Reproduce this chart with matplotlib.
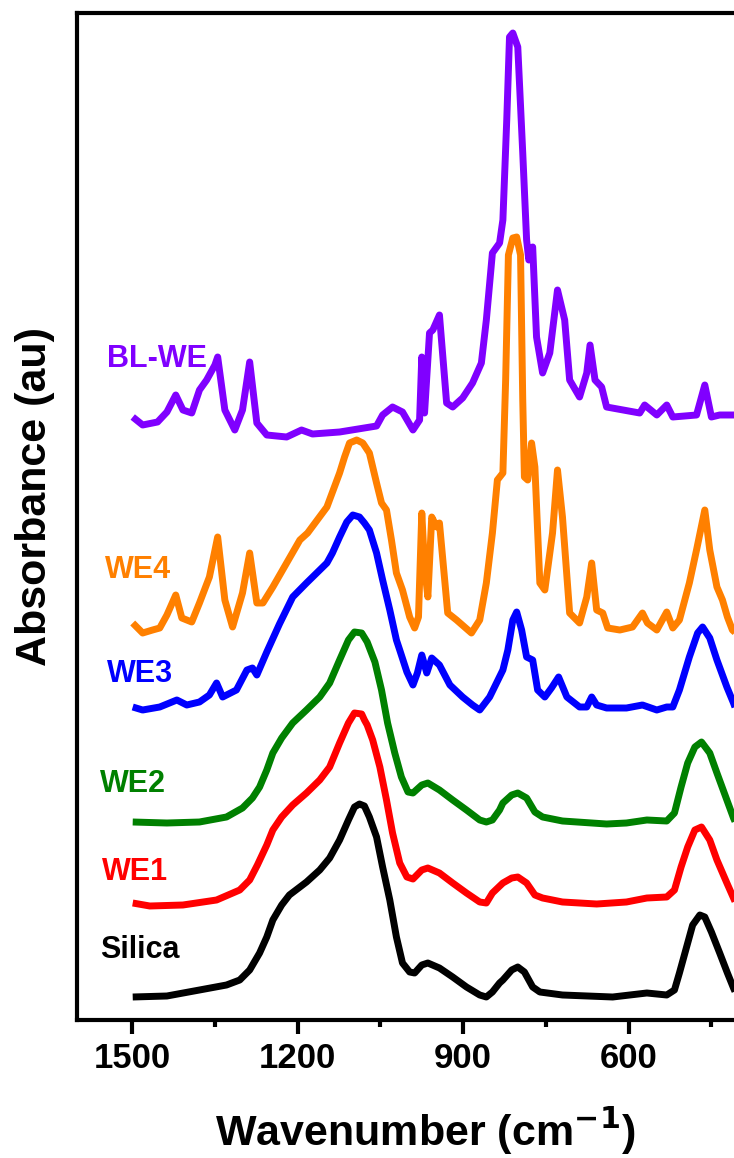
import matplotlib
matplotlib.use("Agg")
import matplotlib.pyplot as plt

plt.rcParams['font.family'] = ['Liberation Sans', 'DejaVu Sans']
plt.rcParams['font.weight'] = 'bold'

# wavenumber (cm-1) / absorbance (au, stacked)
bl_we_x = [1499, 1481, 1454, 1437, 1421, 1408, 1392, 1378, 1365, 1350,
           1345, 1332, 1314, 1300, 1287, 1274, 1256, 1220, 1193, 1173,
           1124, 1057, 1046, 1028, 1010, 991, 979, 975, 970, 961,
           955, 943, 930, 919, 901, 883, 867, 858, 847, 834,
           828, 821, 816, 810, 801, 792, 785, 781, 774, 767,
           756, 743, 729, 716, 707, 689, 676, 670, 661, 649,
           640, 580, 571, 549, 531, 520, 477, 462, 450, 435,
           412, 402]
bl_we_y = [6.03, 5.95, 5.98, 6.08, 6.25, 6.10, 6.07, 6.30, 6.40, 6.55,
           6.63, 6.10, 5.90, 6.10, 6.58, 5.97, 5.85, 5.83, 5.90, 5.86,
           5.88, 5.94, 6.05, 6.13, 6.08, 5.90, 6.00, 6.63, 6.07, 6.87,
           6.90, 7.05, 6.17, 6.13, 6.22, 6.37, 6.57, 7.00, 7.67, 7.77,
           8.00, 9.00, 9.83, 9.87, 9.73, 8.67, 7.80, 7.60, 7.73, 6.83,
           6.47, 6.67, 7.30, 7.00, 6.40, 6.23, 6.47, 6.75, 6.40, 6.33,
           6.13, 6.07, 6.15, 6.05, 6.15, 6.03, 6.05, 6.35, 6.03, 6.05,
           6.05, 6.05]

we4_x = [1499, 1481, 1463, 1450, 1437, 1421, 1410, 1392, 1378, 1360,
         1345, 1332, 1318, 1300, 1287, 1274, 1263, 1245, 1220, 1196,
         1182, 1147, 1124, 1115, 1106, 1093, 1082, 1070, 1057, 1048,
         1039, 1030, 1021, 1010, 997, 988, 981, 975, 970, 964,
         957, 948, 943, 928, 912, 885, 870, 858, 847, 838,
         828, 823, 818, 810, 803, 796, 792, 789, 783, 776,
         770, 761, 752, 738, 729, 720, 707, 689, 676, 667,
         658, 647, 638, 616, 593, 575, 566, 549, 531, 520,
         508, 490, 477, 462, 453, 440, 430, 421, 412, 402]
we4_y = [3.97, 3.87, 3.90, 3.92, 4.05, 4.25, 4.02, 3.98, 4.17, 4.43,
         4.83, 4.20, 3.93, 4.27, 4.67, 4.17, 4.17, 4.33, 4.57, 4.80,
         4.87, 5.13, 5.47, 5.63, 5.77, 5.80, 5.77, 5.67, 5.37, 5.17,
         5.10, 4.80, 4.47, 4.30, 4.03, 3.92, 4.03, 5.07, 4.53, 4.23,
         5.03, 4.93, 4.97, 4.07, 4.00, 3.87, 4.00, 4.37, 4.87, 5.40,
         5.47, 6.40, 7.65, 7.82, 7.83, 7.65, 6.20, 5.43, 5.40, 5.77,
         5.53, 4.37, 4.30, 4.87, 5.50, 5.03, 4.07, 3.97, 4.23, 4.57,
         4.10, 4.07, 3.92, 3.90, 3.93, 4.07, 3.97, 3.90, 4.08, 3.92,
         4.00, 4.37, 4.70, 5.10, 4.70, 4.33, 4.20, 4.03, 3.90, 3.85]

we3_x = [1499, 1481, 1450, 1419, 1401, 1378, 1360, 1347, 1336, 1311,
         1292, 1282, 1274, 1256, 1233, 1209, 1184, 1147, 1137, 1124,
         1111, 1100, 1088, 1079, 1070, 1057, 1046, 1033, 1021, 1015,
         1002, 991, 983, 975, 966, 957, 943, 924, 901, 883,
         870, 852, 828, 819, 810, 803, 794, 785, 774, 765,
         752, 740, 727, 712, 689, 676, 667, 658, 640, 604,
         575, 549, 531, 520, 508, 490, 475, 466, 453, 440,
         422, 410, 402]
we3_y = [3.13, 3.10, 3.13, 3.20, 3.15, 3.18, 3.25, 3.37, 3.23, 3.30,
         3.50, 3.52, 3.45, 3.68, 3.96, 4.23, 4.37, 4.57, 4.67, 4.83,
         4.98, 5.05, 5.03, 4.97, 4.90, 4.67, 4.40, 4.10, 3.80, 3.70,
         3.48, 3.35, 3.47, 3.65, 3.47, 3.62, 3.55, 3.35, 3.23, 3.15,
         3.10, 3.23, 3.50, 3.70, 4.00, 4.08, 3.90, 3.63, 3.60, 3.30,
         3.23, 3.32, 3.43, 3.23, 3.13, 3.13, 3.23, 3.15, 3.12, 3.12,
         3.15, 3.10, 3.13, 3.13, 3.30, 3.63, 3.87, 3.93, 3.82, 3.60,
         3.33, 3.17, 3.05]

we2_x = [1499, 1437, 1378, 1329, 1300, 1282, 1269, 1256, 1245, 1229,
         1209, 1184, 1160, 1142, 1124, 1108, 1097, 1084, 1074, 1060,
         1048, 1037, 1024, 1012, 1000, 991, 975, 964, 943, 919,
         894, 870, 858, 847, 834, 828, 812, 801, 785, 770,
         756, 720, 640, 604, 567, 531, 517, 505, 493, 480,
         468, 453, 440, 422, 410, 402]
we2_y = [1.98, 1.97, 1.98, 2.03, 2.12, 2.22, 2.33, 2.50, 2.67, 2.82,
         2.97, 3.10, 3.23, 3.37, 3.60, 3.80, 3.88, 3.87, 3.78, 3.58,
         3.30, 2.97, 2.67, 2.43, 2.28, 2.27, 2.35, 2.37, 2.30, 2.20,
         2.10, 2.00, 1.98, 2.00, 2.10, 2.17, 2.25, 2.27, 2.22, 2.08,
         2.03, 1.99, 1.96, 1.97, 2.00, 1.99, 2.07, 2.33, 2.57, 2.73,
         2.78, 2.67, 2.47, 2.20, 2.02, 1.92]

we1_x = [1499, 1468, 1408, 1347, 1305, 1287, 1273, 1256, 1245, 1229,
         1209, 1184, 1160, 1142, 1124, 1108, 1097, 1084, 1079, 1074,
         1064, 1051, 1039, 1028, 1015, 1002, 991, 975, 964, 943,
         919, 894, 870, 858, 847, 828, 812, 801, 785, 770,
         756, 720, 658, 604, 567, 531, 517, 505, 493, 480,
         468, 453, 440, 422, 410, 402]
we1_y = [1.17, 1.14, 1.15, 1.20, 1.30, 1.40, 1.55, 1.75, 1.90, 2.03,
         2.15, 2.27, 2.40, 2.53, 2.77, 2.97, 3.07, 3.06, 3.00, 2.95,
         2.80, 2.53, 2.20, 1.87, 1.57, 1.43, 1.41, 1.50, 1.52, 1.47,
         1.37, 1.27, 1.18, 1.17, 1.27, 1.37, 1.42, 1.43, 1.37, 1.25,
         1.22, 1.18, 1.16, 1.18, 1.22, 1.23, 1.30, 1.53, 1.73, 1.90,
         1.93, 1.80, 1.60, 1.37, 1.22, 1.12]

silica_x = [1499, 1437, 1378, 1329, 1305, 1287, 1269, 1256, 1245, 1229,
            1215, 1184, 1160, 1142, 1124, 1108, 1097, 1088, 1079, 1070,
            1057, 1046, 1033, 1021, 1010, 997, 988, 975, 964, 943,
            919, 894, 870, 858, 847, 834, 828, 812, 801, 789,
            774, 761, 720, 629, 567, 531, 517, 508, 495, 484,
            471, 462, 450, 435, 421, 410, 402]
silica_y = [0.23, 0.24, 0.30, 0.35, 0.40, 0.50, 0.67, 0.83, 1.00, 1.15,
            1.25, 1.38, 1.50, 1.62, 1.80, 2.00, 2.13, 2.16, 2.14, 2.03,
            1.83, 1.53, 1.20, 0.83, 0.57, 0.48, 0.47, 0.55, 0.57, 0.52,
            0.43, 0.33, 0.25, 0.23, 0.28, 0.37, 0.40, 0.50, 0.53, 0.48,
            0.33, 0.28, 0.25, 0.23, 0.27, 0.25, 0.30, 0.47, 0.73, 0.95,
            1.05, 1.03, 0.88, 0.67, 0.47, 0.32, 0.22]

names = ['BL-WE', 'WE4', 'WE3', 'WE2', 'WE1', 'Silica']
colors = ['#8000FF', '#FF8000', '#0000FF', '#008000', '#FF0000', '#000000']
label_x = [1546, 1550, 1546, 1559, 1554, 1559]
label_y = [6.53, 4.42, 3.38, 2.28, 1.40, 0.62]

series = [(bl_we_x, bl_we_y), (we4_x, we4_y), (we3_x, we3_y),
          (we2_x, we2_y), (we1_x, we1_y), (silica_x, silica_y)]

fig = plt.figure(figsize=(7.34, 11.58), dpi=100)
ax = fig.add_axes([77 / 734, 138 / 1158, 662 / 734, 1007 / 1158])

for (xs, ys), c, name, lx, ly in zip(series, colors, names, label_x, label_y):
    ax.plot(xs, ys, color=c, lw=5, solid_joinstyle='round', solid_capstyle='butt')
    ax.text(lx, ly, name, color=c, fontsize=22, fontweight='bold', ha='left', va='baseline')

ax.set_xlim(1600, 400)
ax.set_ylim(0, 10.07)
ax.set_xticks([1500, 1200, 900, 600])
ax.set_xticks([1350, 1050, 750, 450], minor=True)
ax.set_yticks([])
ax.tick_params(axis='x', which='major', direction='out', length=10, width=3,
               labelsize=25, pad=6)
ax.tick_params(axis='x', which='minor', direction='out', length=5, width=3)
for lab in ax.get_xticklabels():
    lab.set_fontweight('bold')
for sp in ax.spines.values():
    sp.set_linewidth(3)

ax.set_xlabel('Wavenumber (cm$^{\\mathbf{-1}}$)', fontsize=31, fontweight='bold')
ax.xaxis.set_label_coords(0.526, -0.085)
ax.set_ylabel('Absorbance (au)', fontsize=31, fontweight='bold')
ax.yaxis.set_label_coords(-0.033, 0.52)

fig.savefig('out.png', dpi=100)
